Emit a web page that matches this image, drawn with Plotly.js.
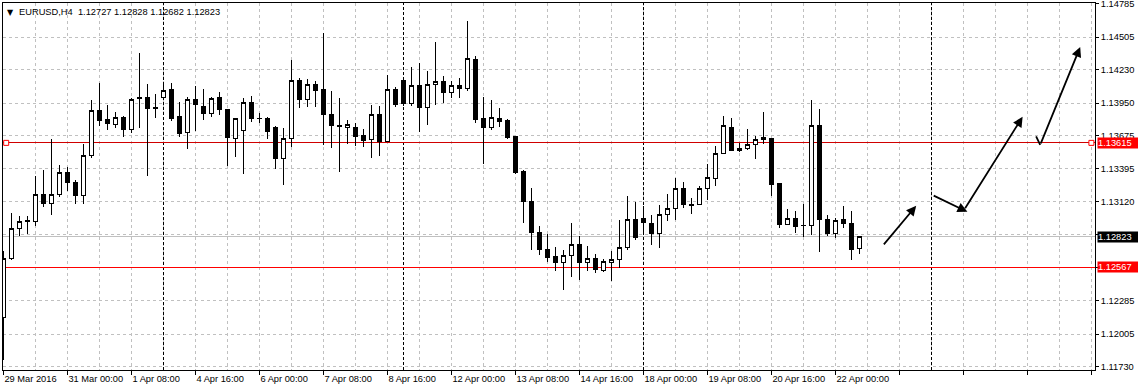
<!DOCTYPE html>
<html>
<head>
<meta charset="utf-8">
<script src="https://cdn.plot.ly/plotly-3.0.1.min.js"></script>
<style>
html,body{margin:0;padding:0;background:#fff;}
#chart{width:1138px;height:391px;}
#chart .shapelayer path{shape-rendering:crispEdges;}
#chart .boxlayer path{shape-rendering:crispEdges;}
</style>
</head>
<body>
<div id="chart"></div>
<script>
// ---- data (EURUSD H4 candles) ----
const openP = [1.12143,1.12645,1.12897,1.12955,1.12953,1.13183,1.13108,1.13183,1.13368,1.13284,
1.13172,1.13508,1.13885,1.13809,1.13773,1.13828,1.13725,1.13991,1.14000,1.13915,
1.14000,1.14061,1.13837,1.13705,1.13977,1.13921,1.13865,1.14000,1.13893,1.13655,
1.13722,1.13958,1.13823,1.13823,1.13744,1.13486,1.13655,1.14137,1.13977,1.14109,
1.14061,1.13857,1.13760,1.13747,1.13747,1.13674,1.13640,1.13857,1.13626,1.14067,
1.14137,1.13943,1.14095,1.13912,1.14106,1.14129,1.14042,1.14095,1.14075,1.14320,
1.13817,1.13744,1.13823,1.13800,1.13668,1.13374,1.13121,1.12864,1.12715,1.12658,
1.12611,1.12667,1.12757,1.12608,1.12645,1.12540,1.12611,1.12636,1.12737,1.12973,
1.12982,1.12939,1.12855,1.13009,1.13065,1.13234,1.13095,1.13099,1.13234,1.13318,
1.13528,1.13747,1.13550,1.13570,1.13604,1.13660,1.13655,1.13270,1.12931,1.12982,
1.12920,1.12919,1.13758,1.12973,1.12855,1.12967,1.12939,1.12727];
const highP = [1.12706,1.13023,1.13001,1.13001,1.13332,1.13388,1.13646,1.13430,1.13411,1.13304,
1.13607,1.13977,1.14123,1.13935,1.13874,1.13845,1.13994,1.14375,1.14112,1.14025,
1.14123,1.14118,1.13963,1.14000,1.14095,1.14067,1.14005,1.14047,1.13900,1.13826,
1.13997,1.14011,1.13865,1.13837,1.13758,1.13742,1.14314,1.14162,1.14154,1.14132,
1.14544,1.14055,1.13991,1.13809,1.13786,1.13731,1.13935,1.13927,1.14188,1.14084,
1.14145,1.14258,1.14286,1.14221,1.14463,1.14179,1.14132,1.14160,1.14642,1.14347,
1.14005,1.13977,1.13912,1.13817,1.13670,1.13388,1.13234,1.12919,1.12847,1.12734,
1.12715,1.12939,1.12833,1.12748,1.12681,1.12636,1.12706,1.12967,1.13169,1.13113,
1.13085,1.13009,1.13093,1.13183,1.13318,1.13284,1.13149,1.13248,1.13436,1.13590,
1.13843,1.13823,1.13618,1.13733,1.13674,1.13874,1.13660,1.13270,1.13057,1.13040,
1.13102,1.13977,1.13901,1.13009,1.12982,1.13085,1.13043,1.12828];
const lowP = [1.11789,1.12630,1.12827,1.12850,1.12917,1.13077,1.13009,1.13155,1.13211,1.13099,
1.13099,1.13491,1.13758,1.13725,1.13739,1.13663,1.13702,1.13742,1.13340,1.13823,
1.13977,1.13800,1.13663,1.13565,1.13716,1.13809,1.13837,1.13851,1.13424,1.13500,
1.13352,1.13792,1.13781,1.13649,1.13396,1.13256,1.13584,1.13910,1.13916,1.13921,
1.13598,1.13571,1.13368,1.13604,1.13592,1.13584,1.13486,1.13508,1.13619,1.13921,
1.13927,1.13927,1.13705,1.13767,1.13935,1.13949,1.13997,1.13997,1.14055,1.13786,
1.13438,1.13725,1.13747,1.13646,1.13354,1.12939,1.12709,1.12667,1.12611,1.12532,
1.12378,1.12485,1.12462,1.12532,1.12519,1.12524,1.12448,1.12560,1.12715,1.12793,
1.12860,1.12757,1.12729,1.12953,1.12962,1.13065,1.13017,1.13093,1.13135,1.13248,
1.13522,1.13548,1.13537,1.13556,1.13478,1.13604,1.13169,1.12896,1.12929,1.12860,
1.12822,1.12841,1.12692,1.12833,1.12813,1.12897,1.12630,1.12682];
const closeP = [1.12639,1.12897,1.12953,1.12962,1.13183,1.13108,1.13183,1.13368,1.13284,1.13172,
1.13508,1.13885,1.13803,1.13776,1.13828,1.13725,1.13983,1.13996,1.13907,1.13905,
1.14053,1.13823,1.13697,1.13977,1.13941,1.13865,1.13991,1.13899,1.13663,1.13817,
1.13958,1.13823,1.13818,1.13710,1.13481,1.13655,1.14137,1.13977,1.14109,1.14055,
1.13857,1.13761,1.13755,1.13767,1.13668,1.13638,1.13857,1.13626,1.14067,1.13935,
1.13943,1.14095,1.13912,1.14109,1.14129,1.14039,1.14095,1.14072,1.14328,1.13815,
1.13744,1.13831,1.13794,1.13660,1.13365,1.13121,1.12864,1.12721,1.12653,1.12608,
1.12664,1.12757,1.12608,1.12645,1.12552,1.12619,1.12636,1.12737,1.12973,1.12822,
1.12945,1.12855,1.13015,1.13065,1.13234,1.13099,1.13090,1.13234,1.13326,1.13528,
1.13758,1.13550,1.13570,1.13604,1.13646,1.13646,1.13267,1.12931,1.12982,1.12911,
1.12915,1.13758,1.12967,1.12850,1.12962,1.12933,1.12715,1.12823];

const xTickIdx = [0,8,16,24,32,40,48,56,64,72,80,88,96,104];
const xTickText = ["29 Mar 2016","31 Mar 00:00","1 Apr 08:00","4 Apr 16:00","6 Apr 00:00","7 Apr 08:00","8 Apr 16:00","12 Apr 00:00","13 Apr 08:00","14 Apr 16:00","18 Apr 00:00","19 Apr 08:00","20 Apr 16:00","22 Apr 00:00"];
// grid levels of the price scale; the two levels hidden under the price boxes carry no label
const yTickVals = [1.14785,1.14505,1.14230,1.13950,1.13675,1.13395,1.13120,1.12845,1.12565,1.12285,1.12005,1.11730];
const yTickText = ["1.14785","1.14505","1.14230","1.13950","1.13675","1.13395","1.13120","","","1.12285","1.12005","1.11730"];
const separatorIdx = [20,50,80,116];
const levelUpper = 1.13615;
const levelLower = 1.12567;
const lastPrice = 1.12823;
const headerText = "EURUSD,H4  1.12727 1.12828 1.12682 1.12823";
// forecast arrows: from [idx, price] to [idx, price]
const arrowsFrom = [[109.9,1.12748],[116.1,1.13177],[120.1,1.13051],[129.0,1.13683],[129.6,1.13598]];
const arrowsTo   = [[114.1,1.13085],[120.5,1.13034],[127.4,1.13834],[129.6,1.13598],[134.6,1.14423]];
const arrowsHead = [true,true,true,false,true];

// ---- build ----
const xIdx = openP.map((_, i) => i);
const xMin = -0.05, xMax = 136.45;
const yMin = 1.11702, yMax = 1.14793;

const minorVals = [];
for (let v = 4; v <= xMax; v += 8) minorVals.push(v);
const allMajor = [];
const allMajorText = [];
for (let v = 0; v <= xMax; v += 8) {
  allMajor.push(v);
  const k = xTickIdx.indexOf(v);
  allMajorText.push(k >= 0 ? xTickText[k] : "");
}

const FONT = "Liberation Sans, Arial, sans-serif";

const candles = {
  type: "candlestick",
  x: xIdx, open: openP, high: highP, low: lowP, close: closeP,
  increasing: {line: {color: "#000", width: 1}, fillcolor: "#ffffff"},
  decreasing: {line: {color: "#000", width: 1}, fillcolor: "#000000"},
  whiskerwidth: 0,
  hoverinfo: "skip",
  showlegend: false
};

const markers = {
  type: "scatter", mode: "markers",
  x: [0.35, xMax - 0.45], y: [levelUpper, levelUpper],
  marker: {symbol: "square", size: 5, color: "#ffffff", line: {color: "#ff0000", width: 1}},
  cliponaxis: false, hoverinfo: "skip", showlegend: false
};

const shapes = [];
separatorIdx.forEach(v => shapes.push({
  type: "line", xref: "x", yref: "y", x0: v, x1: v, y0: yMin, y1: yMax,
  line: {color: "#000", width: 1, dash: "3px,2px"}, layer: "between"
}));
function hLevel(val, color) {
  return {type: "line", xref: "x", yref: "y", x0: xMin, x1: xMax, y0: val, y1: val,
    line: {color: color, width: 1}, layer: "between"};
}
shapes.push(hLevel(lastPrice, "#c0c0c0"));
shapes.push(hLevel(levelUpper, "#d00000"));
shapes.push(hLevel(levelLower, "#ff0000"));

const annotations = [];
arrowsFrom.forEach((f, k) => {
  const t = arrowsTo[k];
  annotations.push({
    x: t[0], y: t[1], ax: f[0], ay: f[1], xref: "x", yref: "y", axref: "x", ayref: "y",
    text: "", showarrow: true, arrowhead: arrowsHead[k] ? 2 : 0, arrowsize: 1.1, arrowwidth: 1.8,
    arrowcolor: "#000", standoff: 0, startstandoff: 0
  });
});
function priceBox(val, bg) {
  return {
    xref: "paper", yref: "y", x: 1, y: val, xanchor: "left", yanchor: "middle", xshift: 2,
    text: val.toFixed(5), showarrow: false, bgcolor: bg, borderpad: 0, width: 41, height: 10,
    align: "left", font: {family: FONT, size: 9.3, color: "#ffffff"}
  };
}
annotations.push(priceBox(levelUpper, "#ff0000"));
annotations.push(priceBox(lastPrice, "#000000"));
annotations.push(priceBox(levelLower, "#ff0000"));
annotations.push({
  xref: "paper", yref: "paper", x: 0, y: 1, xanchor: "left", yanchor: "top", xshift: 2, yshift: -3,
  text: "▼", showarrow: false, font: {family: "DejaVu Sans", size: 8, color: "#000"}
});
annotations.push({
  xref: "paper", yref: "paper", x: 0, y: 1, xanchor: "left", yanchor: "top", xshift: 14, yshift: -2,
  text: headerText.replace(/ /g, "&nbsp;"), showarrow: false, font: {family: FONT, size: 9.3, color: "#000"}
});

const layout = {
  width: 1138, height: 391,
  margin: {l: 3, r: 43, t: 3, b: 21, pad: 0},
  paper_bgcolor: "#ffffff", plot_bgcolor: "#ffffff",
  showlegend: false, hovermode: false,
  boxgap: 0.38,
  font: {family: FONT, size: 9.3, color: "#000"},
  xaxis: {
    range: [xMin, xMax], fixedrange: true,
    rangeslider: {visible: false},
    tickmode: "array", tickvals: allMajor, ticktext: allMajorText,
    ticks: "outside", ticklen: 4, tickcolor: "#000", tickwidth: 1,
    ticklabelposition: "outside right",
    tickfont: {family: FONT, size: 9.3, color: "#000"},
    showgrid: true, gridcolor: "#c0c0c0", griddash: "3px,3px", gridwidth: 1,
    minor: {tickmode: "array", tickvals: minorVals, showgrid: true, gridcolor: "#c0c0c0", griddash: "3px,3px", ticks: ""},
    showline: true, linecolor: "#000", linewidth: 1, mirror: true,
    zeroline: false
  },
  yaxis: {
    range: [yMin, yMax], fixedrange: true, side: "right",
    tickmode: "array", tickvals: yTickVals, ticktext: yTickText,
    ticks: "outside", ticklen: 3, tickcolor: "#000",
    ticklabeloverflow: "allow",
    tickfont: {family: FONT, size: 9.3, color: "#000"},
    showgrid: true, gridcolor: "#c0c0c0", griddash: "3px,3px",
    showline: true, linecolor: "#000", linewidth: 1, mirror: true,
    zeroline: false
  },
  shapes: shapes,
  annotations: annotations
};

Plotly.newPlot("chart", [candles, markers], layout, {staticPlot: true, displayModeBar: false});
</script>
</body>
</html>
